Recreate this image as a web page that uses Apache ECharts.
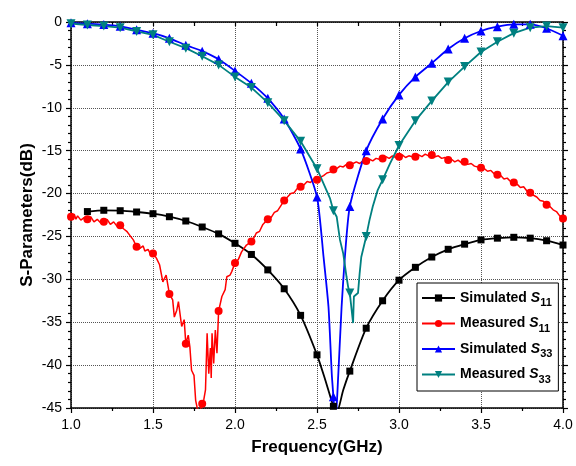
<!DOCTYPE html>
<html><head><meta charset="utf-8">
<script src="https://cdn.jsdelivr.net/npm/echarts@6/dist/echarts.min.js"></script>
<style>html,body{margin:0;padding:0;background:#fff}#c{width:576px;height:466px}</style>
</head><body><div id="c"></div>
<script>
// Simulated S11 (black squares)
const simS11Freq = [1.1,1.2,1.3,1.4,1.5,1.6,1.7,1.8,1.9,2.0,2.1,2.2,2.3,2.4,2.5,2.55,2.6,2.62,2.66,2.7,2.8,2.9,3.0,3.1,3.2,3.3,3.4,3.5,3.6,3.7,3.8,3.9,4.0];
const simS11Vals = [-22.1,-21.95,-22.0,-22.15,-22.35,-22.7,-23.2,-23.9,-24.7,-25.8,-27.1,-28.9,-31.1,-34.2,-38.8,-41.7,-44.8,-45.5,-42.9,-40.7,-35.7,-32.5,-30.1,-28.6,-27.4,-26.5,-25.9,-25.4,-25.2,-25.1,-25.2,-25.5,-26.0];
// Measured S11 (red circles)
const meaS11Freq = [1.00,1.02,1.03,1.04,1.06,1.08,1.10,1.12,1.14,1.16,1.18,1.20,1.22,1.24,1.26,1.28,1.30,1.32,1.34,1.36,1.38,1.40,1.42,1.44,1.45,1.47,1.48,1.50,1.52,1.54,1.56,1.58,1.60,1.62,1.63,1.645,1.655,1.675,1.69,1.70,1.715,1.725,1.735,1.75,1.76,1.775,1.79,1.80,1.81,1.82,1.83,1.84,1.85,1.855,1.86,1.87,1.88,1.89,1.90,1.92,1.94,1.95,1.97,1.98,2.00,2.02,2.04,2.05,2.07,2.08,2.10,2.12,2.13,2.15,2.17,2.18,2.20,2.22,2.24,2.26,2.28,2.30,2.32,2.34,2.36,2.38,2.40,2.42,2.44,2.46,2.48,2.50,2.52,2.54,2.56,2.58,2.60,2.62,2.64,2.66,2.68,2.70,2.72,2.74,2.76,2.78,2.80,2.82,2.84,2.86,2.88,2.90,2.92,2.94,2.96,2.98,3.00,3.02,3.04,3.06,3.08,3.10,3.12,3.14,3.16,3.18,3.20,3.22,3.24,3.26,3.28,3.30,3.32,3.34,3.36,3.38,3.40,3.42,3.44,3.46,3.48,3.50,3.52,3.54,3.56,3.58,3.60,3.62,3.64,3.66,3.68,3.70,3.72,3.74,3.76,3.78,3.80,3.82,3.84,3.86,3.88,3.90,3.92,3.94,3.96,3.98,4.00];
const meaS11Vals = [-22.7,-22.4,-23.0,-22.6,-23.1,-22.8,-23.0,-22.7,-23.3,-23.0,-23.4,-23.3,-23.0,-23.6,-23.3,-23.8,-23.7,-24.1,-24.4,-24.9,-25.4,-26.2,-26.4,-26.1,-26.7,-26.5,-26.9,-27.0,-27.5,-28.3,-30.3,-29.5,-31.7,-32.4,-34.4,-33.6,-32.6,-35.5,-34.7,-37.5,-36.5,-37.9,-40.6,-41.2,-44.1,-45.5,-45.2,-44.5,-44.0,-42.9,-36.3,-41.0,-38.0,-41.5,-36.3,-39.8,-35.9,-38.6,-33.7,-32.0,-31.2,-29.7,-29.5,-29.1,-28.1,-27.7,-26.8,-26.9,-26.0,-26.2,-25.6,-25.0,-24.6,-24.4,-23.6,-23.8,-23.0,-22.8,-22.2,-22.0,-21.4,-20.8,-20.4,-20.0,-19.9,-19.4,-19.2,-19.0,-18.6,-18.7,-18.3,-18.4,-18.1,-17.9,-17.6,-17.5,-17.2,-17.1,-16.8,-16.9,-16.6,-16.7,-16.5,-16.3,-16.5,-16.2,-16.2,-16.0,-16.2,-15.9,-16.0,-15.9,-15.7,-15.9,-15.6,-15.8,-15.7,-15.5,-15.8,-15.6,-15.7,-15.7,-15.5,-15.7,-15.4,-15.6,-15.5,-15.7,-15.6,-15.9,-15.8,-16.1,-16.0,-16.3,-16.1,-16.4,-16.3,-16.6,-16.5,-16.8,-16.9,-17.0,-17.1,-17.4,-17.3,-17.7,-17.8,-17.9,-18.3,-18.2,-18.6,-18.7,-18.9,-19.3,-19.2,-19.7,-19.9,-20.2,-20.4,-20.8,-20.9,-21.3,-21.5,-21.9,-22.1,-22.6,-22.9];
// Simulated S33 (blue triangles)
const simS33Freq = [1.0,1.1,1.2,1.3,1.4,1.5,1.6,1.7,1.8,1.9,2.0,2.1,2.2,2.3,2.4,2.5,2.54,2.57,2.59,2.6,2.612,2.63,2.65,2.67,2.7,2.8,2.9,3.0,3.1,3.2,3.3,3.4,3.5,3.6,3.7,3.8,3.9,4.0];
const simS33Vals = [-0.1,-0.2,-0.3,-0.5,-0.9,-1.3,-1.9,-2.7,-3.4,-4.35,-5.7,-7.15,-8.9,-11.3,-14.8,-20.4,-27.4,-33.2,-41.0,-43.7,-47.0,-41.0,-33.2,-27.4,-21.5,-15.0,-11.3,-8.5,-6.4,-4.8,-3.15,-1.9,-1.05,-0.55,-0.27,-0.27,-0.73,-1.6];
// Measured S33 (teal inverted triangles)
const meaS33Freq = [1.0,1.1,1.2,1.3,1.4,1.5,1.6,1.7,1.8,1.9,2.0,2.1,2.2,2.3,2.4,2.5,2.58,2.6,2.62,2.64,2.66,2.68,2.69,2.7,2.71,2.72,2.725,2.75,2.76,2.77,2.8,2.82,2.84,2.87,2.9,2.945,3.0,3.1,3.2,3.3,3.4,3.5,3.6,3.7,3.8,3.9,4.0];
const meaS33Vals = [-0.2,-0.35,-0.47,-0.66,-1.1,-1.5,-2.3,-3.05,-4.0,-5.0,-6.4,-7.65,-9.4,-11.5,-13.9,-17.1,-20.6,-22.0,-22.7,-25.4,-27.0,-29.7,-30.9,-31.6,-31.8,-35.1,-32.0,-31.6,-29.3,-27.4,-25.0,-23.1,-21.5,-19.6,-18.4,-16.5,-14.4,-11.5,-9.2,-7.0,-5.2,-3.5,-2.3,-1.3,-0.66,-0.47,-0.66];

const xTicks = ['1.0','1.5','2.0','2.5','3.0','3.5','4.0'];

function isMarker(x){ const t = x*10; return Math.abs(t-Math.round(t))<1e-6; }
function build(fr, vals){
  return fr.map((f,i)=> isMarker(f) ? {value:[f,vals[i]]} : {value:[f,vals[i]], symbol:'none'});
}

const chart = echarts.init(document.getElementById('c'));
const axisFont = {fontFamily:'Liberation Sans, Arial, sans-serif', fontSize:14, color:'#000'};
const gridLine = {show:true, lineStyle:{color:'#555', type:[1,1], width:1}};
const axisLine = {show:true, onZero:false, lineStyle:{color:'#000', width:1.5}};

chart.setOption({
  animation:false,
  backgroundColor:'#fff',
  grid:{left:71, right:13, top:22, bottom:58},
  xAxis:[{
    type:'value', min:1, max:4, interval:0.5, position:'bottom',
    axisLine:axisLine,
    axisTick:{show:true, inside:false, length:5, lineStyle:{color:'#000', width:1.2}},
    minorTick:{show:true, splitNumber:2, length:3, lineStyle:{color:'#000', width:1.2}},
    axisLabel:{...axisFont, margin:10, formatter:(v)=>xTicks[Math.round((v-1)/0.5)]},
    splitLine:gridLine,
    name:'Frequency(GHz)', nameLocation:'middle', nameGap:31, nameMoveOverlap:false,
    nameTextStyle:{fontFamily:'Liberation Sans, Arial, sans-serif', fontSize:17, fontWeight:'bold', color:'#000'}
  },{
    type:'value', min:1, max:4, interval:0.5, position:'top',
    axisLine:axisLine,
    axisTick:{show:true, inside:true, length:4, lineStyle:{color:'#000', width:1.2}},
    minorTick:{show:true, splitNumber:2, length:4, lineStyle:{color:'#000', width:1.2}},
    axisLabel:{show:false}, splitLine:{show:false}
  }],
  yAxis:[{
    type:'value', min:-45, max:0, interval:5, position:'left',
    axisLine:axisLine,
    axisTick:{show:true, inside:false, length:5, lineStyle:{color:'#000', width:1.2}},
    minorTick:{show:true, splitNumber:5, length:3, lineStyle:{color:'#000', width:1.2}},
    axisLabel:{...axisFont, margin:9},
    splitLine:gridLine,
    name:'S-Parameters(dB)', nameLocation:'middle', nameGap:35, nameRotate:90, nameMoveOverlap:false,
    nameTextStyle:{fontFamily:'Liberation Sans, Arial, sans-serif', fontSize:17, fontWeight:'bold', color:'#000'}
  },{
    type:'value', min:-45, max:0, interval:5, position:'right',
    axisLine:axisLine,
    axisTick:{show:true, inside:false, length:5, lineStyle:{color:'#000', width:1.2}},
    minorTick:{show:true, splitNumber:5, length:3, lineStyle:{color:'#000', width:1.2}},
    axisLabel:{show:false}, splitLine:{show:false}
  }],
  legend:{
    orient:'vertical', left:417, top:283, padding:[8,6,6,4],
    borderColor:'#000', borderWidth:1, backgroundColor:'#fff',
    itemWidth:33, itemHeight:9, itemGap:8,
    textStyle:{fontFamily:'Liberation Sans, Arial, sans-serif', fontSize:14, fontWeight:'bold', color:'#000',
      rich:{
        s:{fontFamily:'Liberation Sans, Arial, sans-serif', fontSize:14, fontWeight:'bold', fontStyle:'italic', color:'#000'},
        sub:{fontFamily:'Liberation Sans, Arial, sans-serif', fontSize:11, fontWeight:'bold', color:'#000', padding:[10,0,0,0]}
      }},
    formatter:(name)=>{ const p=name.split('|'); return p[0]+' {s|S}{sub|'+p[1]+'}'; },
    data:['Simulated|11','Measured|11','Simulated|33','Measured|33']
  },
  series:[
    {name:'Simulated|11', type:'line', data:build(simS11Freq,simS11Vals), symbol:'rect', symbolSize:7, showAllSymbol:true,
     smooth:0.25, lineStyle:{color:'#000', width:1.8}, itemStyle:{color:'#000'}, clip:true},
    {name:'Measured|11', type:'line', data:build(meaS11Freq,meaS11Vals), symbol:'circle', symbolSize:8, showAllSymbol:true,
     lineStyle:{color:'#ff0000', width:1.5}, itemStyle:{color:'#ff0000'}, clip:true},
    {name:'Simulated|33', type:'line', data:build(simS33Freq,simS33Vals), symbol:'triangle', symbolSize:9, showAllSymbol:true,
     smooth:0.2, lineStyle:{color:'#0000ff', width:1.8}, itemStyle:{color:'#0000ff'}, clip:true},
    {name:'Measured|33', type:'line', data:build(meaS33Freq,meaS33Vals), symbol:'triangle', symbolRotate:180, symbolSize:9, showAllSymbol:true,
     lineStyle:{color:'#008080', width:1.8}, itemStyle:{color:'#008080'}, clip:true}
  ]
});
</script></body></html>
